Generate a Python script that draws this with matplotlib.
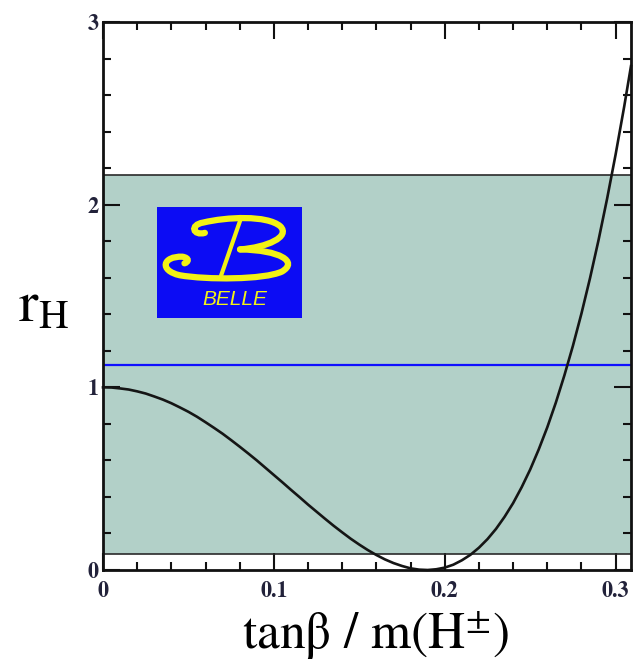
import matplotlib
matplotlib.use("Agg")
import matplotlib.pyplot as plt
from matplotlib.path import Path
from matplotlib.patches import PathPatch, Rectangle
from matplotlib.ticker import MultipleLocator

plt.rcParams['mathtext.fontset'] = 'stix'

# r_H as a function of tan(beta)/m(H+-)
x_vals = [0.000, 0.005, 0.010, 0.015, 0.020, 0.025, 0.030, 0.035, 0.040, 0.045,
          0.050, 0.055, 0.060, 0.065, 0.070, 0.075, 0.080, 0.085, 0.090, 0.095,
          0.100, 0.105, 0.110, 0.115, 0.120, 0.125, 0.130, 0.135, 0.140, 0.145,
          0.150, 0.155, 0.160, 0.165, 0.170, 0.175, 0.180, 0.185, 0.190, 0.195,
          0.200, 0.205, 0.210, 0.215, 0.220, 0.225, 0.230, 0.235, 0.240, 0.245,
          0.250, 0.255, 0.260, 0.265, 0.270, 0.275, 0.280, 0.285, 0.290, 0.295,
          0.300, 0.305, 0.309]
r_vals = [1.000, 0.999, 0.994, 0.988, 0.978, 0.966, 0.950, 0.933, 0.913, 0.890,
          0.866, 0.839, 0.809, 0.778, 0.746, 0.711, 0.675, 0.638, 0.600, 0.560,
          0.520, 0.480, 0.439, 0.399, 0.358, 0.319, 0.280, 0.242, 0.206, 0.171,
          0.139, 0.109, 0.082, 0.058, 0.038, 0.022, 0.009, 0.002, 0.000, 0.004,
          0.013, 0.029, 0.053, 0.083, 0.122, 0.169, 0.225, 0.291, 0.366, 0.453,
          0.550, 0.660, 0.781, 0.916, 1.065, 1.227, 1.404, 1.597, 1.806, 2.032,
          2.275, 2.536, 2.759]

# measured value and its allowed band
r_measured = 1.12
band_low, band_high = 0.09, 2.16

x_range = (0.0, 0.309)
y_range = (0.0, 3.0)
x_ticks = [0, 0.1, 0.2, 0.3]
x_tick_labels = ['0', '0.1', '0.2', '0.3']
y_ticks = [0, 1, 2, 3]
y_tick_labels = ['0', '1', '2', '3']

fig = plt.figure(figsize=(6.33, 6.65), dpi=100)
ax = fig.add_axes([103 / 633, 1 - 570 / 665, 528 / 633, 548 / 665])

ax.axhspan(band_low, band_high, color='#b2d0c8', zorder=1, lw=0)
ax.axhline(band_high, color='#2a2a2a', lw=1.2, zorder=2)
ax.axhline(band_low, color='#2a2a2a', lw=1.2, zorder=2)
ax.axhline(r_measured, color='#1010ff', lw=1.6, zorder=3)
ax.plot(x_vals, r_vals, color='#151515', lw=1.9, zorder=4, clip_on=False)

ax.set_xlim(*x_range)
ax.set_ylim(*y_range)
ax.set_xticks(x_ticks)
ax.set_xticklabels(x_tick_labels)
ax.set_yticks(y_ticks)
ax.set_yticklabels(y_tick_labels)
ax.xaxis.set_minor_locator(MultipleLocator(0.02))
ax.yaxis.set_minor_locator(MultipleLocator(0.2))

for s in ax.spines.values():
    s.set_linewidth(2.0)
    s.set_color('#111111')
    s.set_zorder(6)

ax.tick_params(which='both', direction='in', top=True, right=True,
               width=1.5, color='#111111')
ax.tick_params(which='major', length=12)
ax.tick_params(which='minor', length=6)
ax.tick_params(axis='x', which='major', pad=8)
ax.tick_params(axis='y', which='major', pad=3)
for lab in ax.get_xticklabels() + ax.get_yticklabels():
    lab.set_fontfamily('STIXGeneral')
    lab.set_fontweight('bold')
    lab.set_fontsize(16)
    lab.set_color('#22223a')

fig.text(375 / 633, 1 - 636 / 665, r'tanβ / m(H$^{\pm}$)', family='STIXGeneral',
         fontsize=37, ha='center', va='center')
fig.text(44 / 633, 1 - 305 / 665, r'$\mathrm{r_H}$', fontsize=42,
         ha='center', va='center')

# experiment logo
logo = fig.add_axes([157 / 633, 1 - 318 / 665, 145 / 633, 111 / 665])
logo.set_xlim(52, 485)
logo.set_ylim(385, 50)
logo.axis('off')
logo.add_patch(Rectangle((52, 50), 433, 335, color='#0c0cf4', zorder=0))
yellow = '#f2f215'
M, C = Path.MOVETO, Path.CURVE4
upper = Path([(195, 128), (160, 138), (148, 104), (190, 97),
              (260, 80), (380, 74), (420, 108),
              (452, 140), (380, 172), (300, 178)],
             [M, C, C, C, C, C, C, C, C, C])
lower = Path([(300, 178), (420, 180), (475, 215), (425, 245),
              (370, 270), (200, 270), (120, 256),
              (58, 242), (68, 198), (128, 200),
              (150, 204), (146, 216), (134, 220)],
             [M, C, C, C, C, C, C, C, C, C, C, C, C])
logo.add_patch(PathPatch(upper, fc='none', ec=yellow, lw=4.5, capstyle='round'))
logo.add_patch(PathPatch(lower, fc='none', ec=yellow, lw=4.5, capstyle='round'))
logo.plot([302, 243], [86, 258], color=yellow, lw=3, solid_capstyle='round')
logo.text(285, 330, 'BELLE', color=yellow, family='Liberation Sans',
          style='italic', fontsize=15, ha='center', va='center')

fig.savefig('out.png', dpi=100)
